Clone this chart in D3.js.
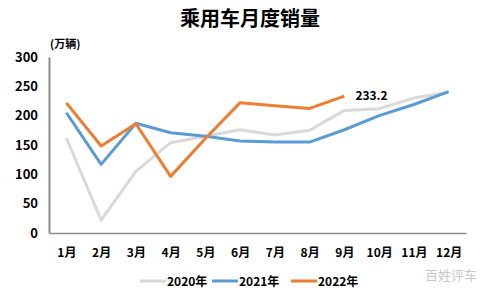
<!DOCTYPE html>
<html>
<head>
<meta charset="utf-8">
<script src="https://cdn.jsdelivr.net/npm/d3@7"></script>
<style>
  body { margin: 0; background: #fff; }
  text { font-family: "Noto Sans CJK SC", "Noto Sans", sans-serif; }
</style>
</head>
<body>
<script>

// months on the x axis
var months = ["1月", "2月", "3月", "4月", "5月", "6月", "7月", "8月", "9月", "10月", "11月", "12月"];

// sales per year, 10k units
var sales2020 = [162, 22, 105, 154, 165, 176, 167, 175, 209, 212, 230, 240];
var sales2021 = [205, 117, 187, 171, 165, 157, 155, 155, 176, 200, 219, 241];
var sales2022 = [221.8, 148.3, 186.3, 96.5, 161.2, 222.2, 217, 212.3, 233.2];

var y_ticks = [0, 50, 100, 150, 200, 250, 300];

var series = [
  {name: "2020年", values: sales2020, color: "#d9d9d9"},
  {name: "2021年", values: sales2021, color: "#5b9bd5"},
  {name: "2022年", values: sales2022, color: "#ed7d31"}
];

var width = 498, height = 298;
var margin = {top: 57, right: 32, bottom: 65, left: 49};

var svg = d3.select("body")
  .append("svg")
  .attr("width", width)
  .attr("height", height);

// scales
var x_scale = d3.scalePoint()
  .domain(months)
  .range([margin.left, width - margin.right])
  .padding(0.5);

var y_scale = d3.scaleLinear()
  .domain([0, 300])
  .range([height - margin.bottom, margin.top]);

// title
svg.append("text")
  .attr("x", 250)
  .attr("y", 26)
  .attr("text-anchor", "middle")
  .attr("font-size", "20px")
  .attr("font-weight", "bold")
  .text("乘用车月度销量");

// unit label
svg.append("text")
  .attr("x", 50)
  .attr("y", 48)
  .attr("font-size", "11px")
  .attr("font-weight", "bold")
  .text("(万辆)");

// y axis
var y_axis = svg.append("g")
  .attr("transform", "translate(" + margin.left + ",0)")
  .call(d3.axisLeft(y_scale).tickValues(y_ticks).tickSize(0).tickPadding(11));
y_axis.select(".domain").attr("stroke", "#8c8c8c").attr("stroke-width", 2);
y_axis.selectAll("text")
  .attr("font-size", "13px")
  .attr("font-weight", "bold")
  .attr("fill", "#000");

// x axis
var x_axis = svg.append("g")
  .attr("transform", "translate(0," + (height - margin.bottom) + ")")
  .call(d3.axisBottom(x_scale).tickSize(0).tickPadding(15));
x_axis.select(".domain").attr("stroke", "#8c8c8c").attr("stroke-width", 1.5);
x_axis.selectAll("text")
  .attr("font-size", "12px")
  .attr("font-weight", "bold")
  .attr("fill", "#000");

// lines
var line = d3.line()
  .x(function(d, i) { return x_scale(months[i]); })
  .y(function(d) { return y_scale(d); });

series.forEach(function(s) {
  svg.append("path")
    .datum(s.values)
    .attr("fill", "none")
    .attr("stroke", s.color)
    .attr("stroke-width", 3)
    .attr("stroke-linejoin", "round")
    .attr("d", line);
});

// label on last 2022 point
var last = sales2022.length - 1;
svg.append("text")
  .attr("x", x_scale(months[last]) + 11)
  .attr("y", y_scale(sales2022[last]) + 4)
  .attr("font-size", "12px")
  .attr("font-weight", "bold")
  .text(sales2022[last].toFixed(1));

// legend
var legend_x = [140, 212, 291];
series.forEach(function(s, i) {
  var g = svg.append("g").attr("transform", "translate(" + legend_x[i] + ",281)");
  g.append("line")
    .attr("x1", 0).attr("x2", 26)
    .attr("stroke", s.color)
    .attr("stroke-width", 3);
  g.append("text")
    .attr("x", 27)
    .attr("y", 5)
    .attr("font-size", "12px")
    .attr("font-weight", "bold")
    .text(s.name);
});

// watermark
svg.append("text")
  .attr("x", 425)
  .attr("y", 280)
  .attr("font-size", "13px")
  .attr("fill", "#c8c8c8")
  .text("百姓评车");

</script>
</body>
</html>
